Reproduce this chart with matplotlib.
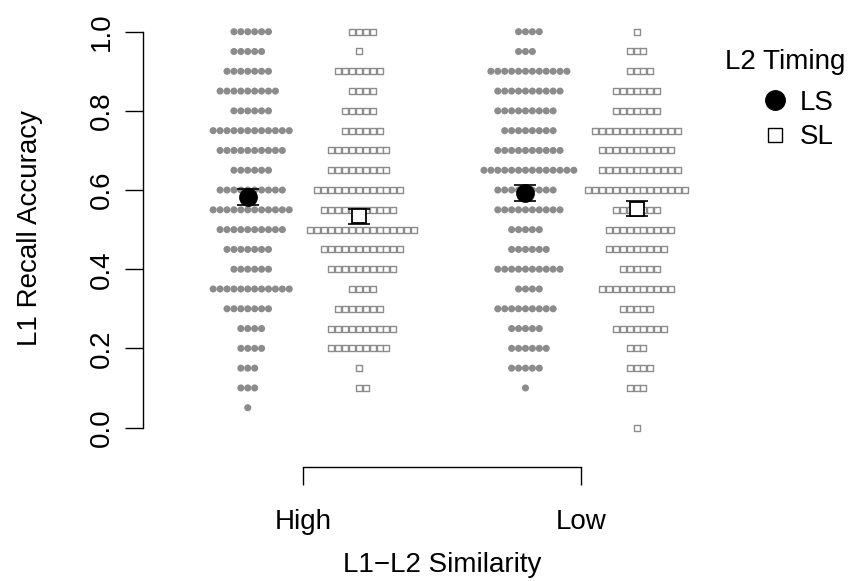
import numpy as np
import matplotlib
matplotlib.use('Agg')
import matplotlib.pyplot as plt
from matplotlib.lines import Line2D

plt.rcParams['font.family'] = ['Liberation Sans', 'DejaVu Sans']

# accuracy levels 0.00 .. 1.00 by 0.05
levels = np.round(np.arange(0, 1.0001, 0.05), 2)

# number of participants at each level (from 0.00 up to 1.00)
high_ls = [0, 1, 3, 3, 4, 4, 7, 12, 6, 7, 10, 12, 10, 6, 10, 12, 6, 9, 7, 5, 6]
high_sl = [0, 0, 2, 1, 9, 10, 7, 4, 10, 12, 16, 11, 13, 9, 9, 6, 5, 4, 7, 1, 4]
low_ls = [0, 0, 1, 5, 6, 5, 9, 4, 10, 6, 5, 10, 9, 14, 10, 8, 9, 10, 12, 3, 4]
low_sl = [1, 0, 3, 4, 3, 8, 5, 11, 6, 9, 10, 7, 15, 12, 11, 13, 7, 7, 4, 3, 1]

similarity = ['High', 'Low']
timing = ['LS', 'SL']

groups = [(1, 'LS', high_ls), (1, 'SL', high_sl), (2, 'LS', low_ls), (2, 'SL', low_sl)]
dodge = {'LS': -0.2, 'SL': 0.2}
spacing = 0.0249

fig = plt.figure(figsize=(8.52, 5.81), dpi=100)
ax = fig.add_axes([143 / 852, 0.1967, 577 / 852, 0.7828])
ax.set_xlim(0.4228, 2.5005)
ax.set_ylim(-0.099, 1.05)

for pos, tm, counts in groups:
    center = pos + dodge[tm]
    xs, ys = [], []
    for lev, n in zip(levels, counts):
        if n == 0:
            continue
        idx = np.arange(n) - (n - 1) // 2
        xs.extend(center + idx * spacing)
        ys.extend([lev] * n)
    if tm == 'LS':
        ax.scatter(xs, ys, s=26, color='#8c8c8c', edgecolors='none', zorder=2)
    else:
        ax.scatter(xs, ys, s=16, marker='s', facecolor='white',
                   edgecolors='#8c8c8c', linewidths=1.0, zorder=2)

    vals = np.repeat(levels, counts)
    m = vals.mean()
    se = vals.std(ddof=1) / np.sqrt(len(vals))
    ax.errorbar(center, m, yerr=se, color='black', capsize=8, elinewidth=1.2,
                capthick=1.2, zorder=3, fmt='none')
    if tm == 'LS':
        ax.plot(center, m, 'o', color='black', markersize=12.5, zorder=4)
    else:
        ax.plot(center, m, 's', markerfacecolor='white', markeredgecolor='black',
                markeredgewidth=1.3, markersize=10, zorder=4)

for side in ['top', 'right']:
    ax.spines[side].set_visible(False)
ax.spines['left'].set_bounds(0, 1)
ax.spines['bottom'].set_bounds(1, 2)
ax.spines['left'].set_linewidth(1.0)
ax.spines['bottom'].set_linewidth(1.0)

ax.set_yticks(np.arange(0, 1.01, 0.2))
ax.set_yticklabels(['%.1f' % v for v in np.arange(0, 1.01, 0.2)])
ax.set_xticks([1, 2])
ax.set_xticklabels(similarity)
ax.tick_params(axis='both', length=13, width=1.0, labelsize=20)
ax.tick_params(axis='x', pad=17.5)
ax.tick_params(axis='y', pad=7)
for lab in ax.get_yticklabels():
    lab.set_rotation(90)
    lab.set_va('center')

fig.text(30 / 852, 1 - 228 / 581, 'L1 Recall Accuracy', rotation=90,
         ha='center', va='center', fontsize=20)
fig.text(442 / 852, 1 - 565 / 581, 'L1\u2212L2 Similarity',
         ha='center', va='center', fontsize=20)

# legend: title as separate text, entries below it
fig.text(725 / 852, 1 - 62 / 581, 'L2 Timing', ha='left', va='center', fontsize=20)
handles = [Line2D([], [], marker='o', color='black', linestyle='none', markersize=14),
           Line2D([], [], marker='s', markerfacecolor='white', markeredgecolor='black',
                  markeredgewidth=1.0, linestyle='none', markersize=9.5)]
leg = ax.legend(handles, timing, loc='upper left',
                bbox_to_anchor=(761 / 852, 1 - 90 / 581), bbox_transform=fig.transFigure,
                frameon=False, fontsize=20, handlelength=1.0,
                handletextpad=0.4, labelspacing=0.3, borderpad=0, borderaxespad=0)

plt.savefig('out.png', dpi=100)
plt.close()
